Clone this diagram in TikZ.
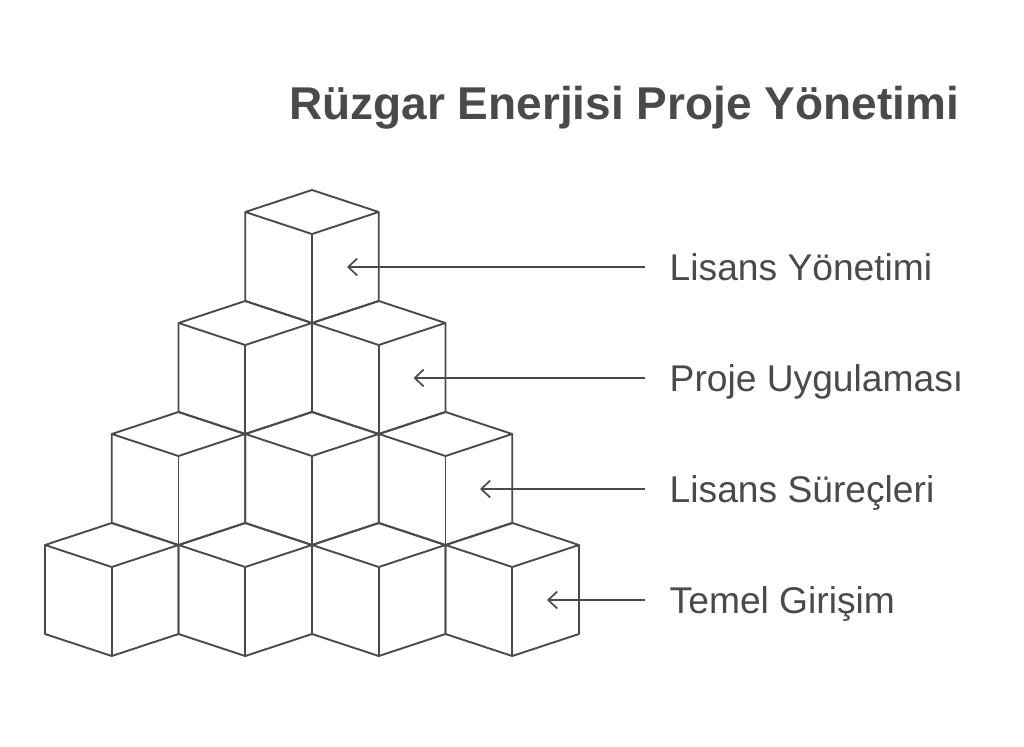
\documentclass[tikz,border=0pt]{standalone}
\usepackage{fontspec}
\setmainfont{Liberation Sans}
\usetikzlibrary{arrows.meta}
\definecolor{inkgray}{HTML}{4A4A4A}
\tikzset{
	cubeline/.style = {draw = inkgray, line width = 1.9pt, line join = round},
	pointer/.style = {draw = inkgray, line width = 1.7pt, {Straight Barb[length=9pt, width=17pt, line width=1.7pt]}-},
	label/.style = {anchor = base west, inner sep = 0pt, text = inkgray, font = \fontsize{37.2}{41}\selectfont},
}
\begin{document}
\begin{tikzpicture}[x = 1pt, y = -1pt]
		\useasboundingbox (0, 0) rectangle (1024, 746);
		% title
			\node[anchor = base west, inner sep = 0pt, text = inkgray, font = \fontsize{46}{50}\selectfont\bfseries] (title) at (289, 120) {Rüzgar Enerjisi Proje Yönetimi};
		% the cubes (left corner of each)
		\def\w{66.75}
		\def\d{22}
		\def\h{89}
		\foreach \cx/\cy in {245.25/212,
			178.5/323, 312/323,
			111.75/434, 245.25/434, 378.75/434,
			45/545, 178.5/545, 312/545, 445.5/545}
		{
			\draw[cubeline] (\cx, \cy) -- (\cx + \w, \cy - \d) -- (\cx + 2*\w, \cy)
				-- (\cx + 2*\w, \cy + \h) -- (\cx + \w, \cy + \h + \d) -- (\cx, \cy + \h) -- cycle;
			\draw[cubeline] (\cx, \cy) -- (\cx + \w, \cy + \d) -- (\cx + 2*\w, \cy);
			\draw[cubeline] (\cx + \w, \cy + \d) -- (\cx + \w, \cy + \h + \d);
		}
		% labels
		\node[label] (lic) at (669.5, 280.5) {Lisans Yönetimi};
		\node[label] (proj) at (669.5, 391.5) {Proje Uygulaması};
		\node[label] (proc) at (669.5, 502.5) {Lisans Süreçleri};
		\node[label] (base) at (669.5, 613.5) {Temel Girişim};
		% arrow tips
		\coordinate (tlic) at (347, 267);
		\coordinate (tproj) at (413.5, 378);
		\coordinate (tproc) at (480, 489);
		\coordinate (tbase) at (547, 600);
		% the arrows
		\draw[pointer] (tlic) -- ([xshift = -24.5pt] lic.west |- tlic);
		\draw[pointer] (tproj) -- ([xshift = -24.5pt] proj.west |- tproj);
		\draw[pointer] (tproc) -- ([xshift = -24.5pt] proc.west |- tproc);
		\draw[pointer] (tbase) -- ([xshift = -24.5pt] base.west |- tbase);
	\end{tikzpicture}
\end{document}
